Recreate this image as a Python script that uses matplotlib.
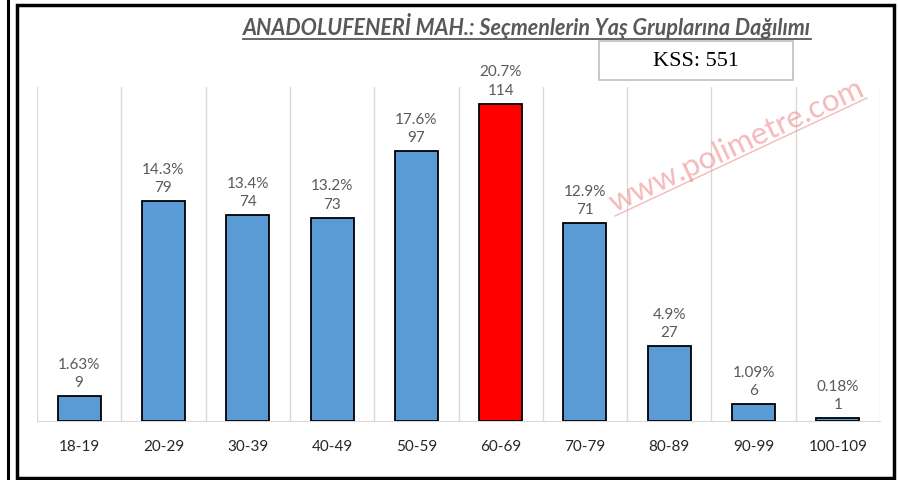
import matplotlib.pyplot as plt
from matplotlib.lines import Line2D
from matplotlib.patches import Rectangle

groups = ["18-19", "20-29", "30-39", "40-49", "50-59", "60-69",
          "70-79", "80-89", "90-99", "100-109"]
counts = [9, 79, 74, 73, 97, 114, 71, 27, 6, 1]
pct_labels = ["1.63%", "14.3%", "13.4%", "13.2%", "17.6%", "20.7%",
              "12.9%", "4.9%", "1.09%", "0.18%"]
highlight = "60-69"

title = "ANADOLUFENERİ MAH.: Seçmenlerin Yaş Gruplarına Dağılımı"
total_label = "KSS: 551"
watermark = "www.polimetre.com"

W, H = 898, 481
fig = plt.figure(figsize=(W / 100, H / 100), dpi=100)
plt.rcParams["font.family"] = ["Lato", "DejaVu Sans"]

ax = fig.add_axes([37 / W, 1 - 422 / H, (880 - 37) / W, (422 - 88) / H])

colors = ["#FF0000" if g == highlight else "#5B9BD5" for g in groups]
x = range(len(groups))
ax.bar(x, counts, width=0.51, color=colors, edgecolor="black", linewidth=1.3, zorder=3)

for i, (c, p) in enumerate(zip(counts, pct_labels)):
    ax.annotate(f"{p}\n{c}", (i, c), xytext=(0, 5), textcoords="offset points",
                ha="center", va="bottom", fontsize=11, color="#595959",
                linespacing=1.4)

ax.set_xlim(-0.5, len(groups) - 0.5)
ax.set_ylim(0, 120)
ax.set_yticks([])
ax.set_xticks(list(x))
ax.set_xticklabels(groups, fontsize=11, color="#262626")
ax.tick_params(axis="x", length=0, pad=13)

# vertical gridlines at category boundaries
for b in range(len(groups) + 1):
    ax.axvline(b - 0.5, color="#D9D9D9", linewidth=1, zorder=1)

for s in ["top", "left", "right"]:
    ax.spines[s].set_visible(False)
ax.spines["bottom"].set_color("#D9D9D9")
ax.spines["bottom"].set_zorder(1)

# outer frames
fig.add_artist(Rectangle((16.5 / W, 2.5 / H), (894 - 16.5) / W, (478 - 5) / H,
                         transform=fig.transFigure, fill=False,
                         edgecolor="black", linewidth=2.5))
fig.add_artist(Line2D([8 / W, 8 / W], [0, 1], transform=fig.transFigure,
                      color="black", linewidth=2.2))

# title with underline
t = fig.text(527 / W, 1 - 26 / H, title, ha="center", va="center",
             fontsize=15.5, fontweight="bold", fontstyle="italic", color="#595959")
fig.canvas.draw()
bb = t.get_window_extent()
fig.add_artist(Line2D([bb.x0 / W, bb.x1 / W], [(bb.y0 - 1) / H, (bb.y0 - 1) / H],
                      transform=fig.transFigure, color="#595959", linewidth=1.3))

# KSS box
fig.add_artist(Rectangle((599 / W, 1 - 81 / H), (793 - 599) / W, 39 / H,
                         transform=fig.transFigure, facecolor="white",
                         edgecolor="#BFBFBF", linewidth=1.2, zorder=5))
fig.text(696 / W, 1 - 62 / H, total_label, ha="center", va="center",
         fontsize=16, family="Liberation Serif", color="black", zorder=6)

# watermark
fig.text(736 / W, 1 - 146 / H, watermark, ha="center", va="center",
         rotation=25, fontsize=22.5, color="#EE8A8A", alpha=0.6,
         family="Lato", zorder=4)
fig.add_artist(Line2D([615 / W, 867 / W], [1 - 217 / H, 1 - 99 / H],
                      transform=fig.transFigure, color="#EE8A8A", alpha=0.6,
                      linewidth=1))

fig.savefig("out.png", dpi=100)
